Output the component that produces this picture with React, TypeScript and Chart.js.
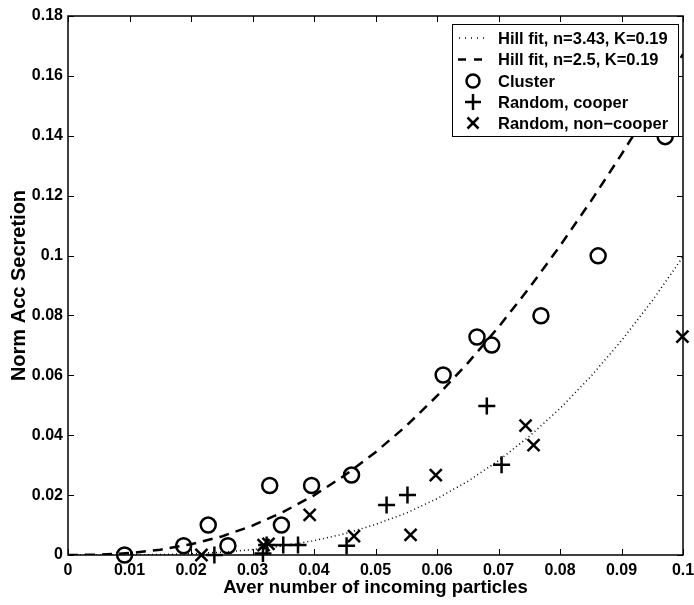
import React, { useEffect, useRef } from "react";
import { Chart, registerables } from "chart.js";

Chart.register(...registerables);

// ---- Axis ticks ----
const xTickValues = [0, 0.01, 0.02, 0.03, 0.04, 0.05, 0.06, 0.07, 0.08, 0.09, 0.1];
const xTickLabels = ["0", "0.01", "0.02", "0.03", "0.04", "0.05", "0.06", "0.07", "0.08", "0.09", "0.1"];
const yTickValues = [0, 0.02, 0.04, 0.06, 0.08, 0.1, 0.12, 0.14, 0.16, 0.18];
const yTickLabels = ["0", "0.02", "0.04", "0.06", "0.08", "0.1", "0.12", "0.14", "0.16", "0.18"];

// ---- Fit curves ----
const curveX = [0, 0.005, 0.01, 0.015, 0.02, 0.025, 0.03, 0.035, 0.04, 0.045, 0.05, 0.055, 0.06, 0.065, 0.07, 0.075, 0.08, 0.085, 0.09, 0.095, 0.1];
const hillDotted = [0, 0.000004, 0.00004, 0.00017, 0.00044, 0.00095, 0.0018, 0.003, 0.0048, 0.0071, 0.0102, 0.014, 0.0188, 0.0246, 0.0315, 0.0396, 0.0489, 0.0596, 0.0716, 0.0849, 0.0996];
const hillDashed = [0, 0.00011, 0.00064, 0.00175, 0.0036, 0.0062, 0.0098, 0.0144, 0.0199, 0.0266, 0.0343, 0.0431, 0.0531, 0.0641, 0.0761, 0.0892, 0.1032, 0.1181, 0.1338, 0.1502, 0.1673];

// ---- Measured points ----
const clusterX = [0.0092, 0.0188, 0.0228, 0.026, 0.0328, 0.0347, 0.0396, 0.0461, 0.061, 0.0665, 0.0689, 0.0769, 0.0862, 0.0971];
const clusterY = [0, 0.0031, 0.01, 0.0031, 0.0232, 0.01, 0.0232, 0.0267, 0.0601, 0.0728, 0.0701, 0.0799, 0.0999, 0.1397];

const cooperX = [0.0238, 0.0317, 0.0323, 0.035, 0.0374, 0.0453, 0.0518, 0.0552, 0.0681, 0.0705];
const cooperY = [0, 0.0005, 0.0033, 0.0033, 0.0033, 0.0031, 0.0167, 0.02, 0.0498, 0.0301];

const nonCooperX = [0.0217, 0.0318, 0.0326, 0.0393, 0.0465, 0.0557, 0.0598, 0.0744, 0.0757, 0.0999];
const nonCooperY = [0, 0.0033, 0.0037, 0.0134, 0.0063, 0.0067, 0.0267, 0.0432, 0.0367, 0.0729];

const seriesLabels = [
  "Hill fit, n=3.43, K=0.19",
  "Hill fit, n=2.5, K=0.19",
  "Cluster",
  "Random, cooper",
  "Random, non\u2212cooper",
];

const FONT = "'Liberation Sans', Arial, Helvetica, sans-serif";

const zip = (xs: number[], ys: number[]) => xs.map((x, i) => ({ x, y: ys[i] }));

const framePlugin = {
  id: "frameAndLegend",
  afterDraw(chart: any) {
    const { ctx, chartArea } = chart;
    const { left, right, top, bottom } = chartArea;
    const xs = chart.scales.x;
    const ys = chart.scales.y;
    ctx.save();
    ctx.strokeStyle = "#000";
    ctx.lineWidth = 1.5;
    ctx.strokeRect(left, top, right - left, bottom - top);
    ctx.lineWidth = 1;
    const L = 6;
    const line = (a: number, b: number, c: number, d: number) => {
      ctx.beginPath();
      ctx.moveTo(a, b);
      ctx.lineTo(c, d);
      ctx.stroke();
    };
    for (const v of xTickValues) {
      const px = Math.round(xs.getPixelForValue(v)) + 0.5;
      line(px, bottom, px, bottom - L);
      line(px, top, px, top + L);
    }
    for (const v of yTickValues) {
      const py = Math.round(ys.getPixelForValue(v)) + 0.5;
      line(left, py, left + L, py);
      line(right, py, right - L, py);
    }

    // Legend box
    const bx = 452, by = 24, bw = 226, bh = 112;
    ctx.fillStyle = "#fff";
    ctx.fillRect(bx, by, bw, bh);
    ctx.strokeStyle = "#000";
    ctx.lineWidth = 1;
    ctx.strokeRect(bx + 0.5, by + 0.5, bw, bh);

    const rows = [38, 59.5, 81, 102, 123];
    const sx = 473;
    ctx.font = `bold 16.5px ${FONT}`;
    ctx.textBaseline = "middle";
    ctx.textAlign = "left";
    ctx.fillStyle = "#000";
    seriesLabels.forEach((lab, i) => {
      const y = rows[i];
      ctx.save();
      ctx.strokeStyle = "#000";
      if (i === 0) {
        ctx.lineWidth = 1.5;
        ctx.setLineDash([1, 5]);
        line(459, y, 489, y);
      } else if (i === 1) {
        ctx.lineWidth = 2.5;
        ctx.setLineDash([8, 8]);
        line(458, y, 490, y);
      } else if (i === 2) {
        ctx.lineWidth = 2.5;
        ctx.beginPath();
        ctx.arc(sx, y, 6.5, 0, Math.PI * 2);
        ctx.stroke();
      } else if (i === 3) {
        ctx.lineWidth = 2.5;
        line(sx - 8, y, sx + 8, y);
        line(sx, y - 8, sx, y + 8);
      } else {
        ctx.lineWidth = 2.5;
        line(sx - 5.5, y - 5.5, sx + 5.5, y + 5.5);
        line(sx - 5.5, y + 5.5, sx + 5.5, y - 5.5);
      }
      ctx.restore();
      ctx.fillText(lab, 498, y + 1);
    });
    ctx.restore();
  },
};

export default function App() {
  const canvasRef = useRef<HTMLCanvasElement | null>(null);

  useEffect(() => {
    document.body.style.margin = "0";
    const canvas = canvasRef.current;
    if (!canvas) return;
    const chart = new Chart(canvas, {
      type: "scatter",
      data: {
        datasets: [
          {
            label: seriesLabels[0],
            data: zip(curveX, hillDotted),
            showLine: true,
            borderColor: "#000",
            borderWidth: 1.5,
            borderDash: [1, 3],
            pointRadius: 0,
            fill: false,
          },
          {
            label: seriesLabels[1],
            data: zip(curveX, hillDashed),
            showLine: true,
            borderColor: "#000",
            borderWidth: 2.5,
            borderDash: [10, 7],
            pointRadius: 0,
            fill: false,
          },
          {
            label: seriesLabels[2],
            data: zip(clusterX, clusterY),
            pointStyle: "circle",
            pointRadius: 7.5,
            borderWidth: 2.5,
            borderColor: "#000",
            backgroundColor: "rgba(0,0,0,0)",
            clip: false,
          },
          {
            label: seriesLabels[3],
            data: zip(cooperX, cooperY),
            pointStyle: "cross",
            pointRadius: 8.5,
            borderWidth: 2.5,
            borderColor: "#000",
            clip: false,
          },
          {
            label: seriesLabels[4],
            data: zip(nonCooperX, nonCooperY),
            pointStyle: "crossRot",
            pointRadius: 8.5,
            borderWidth: 2.5,
            borderColor: "#000",
            clip: false,
          },
        ] as any,
      },
      options: {
        animation: false,
        responsive: false,
        maintainAspectRatio: false,
        layout: { padding: { left: 0, right: 0, top: 16, bottom: 0 } },
        plugins: { legend: { display: false }, tooltip: { enabled: false } },
        scales: {
          x: {
            type: "linear",
            min: 0,
            max: 0.1,
            grid: { display: false, drawTicks: false },
            border: { display: false },
            afterBuildTicks: (scale: any) => {
              scale.ticks = xTickValues.map((v) => ({ value: v }));
            },
            afterFit: (scale: any) => {
              scale.height = 50;
              scale.paddingRight = 10;
              scale.paddingLeft = 0;
            },
            ticks: {
              autoSkip: false,
              maxRotation: 0,
              padding: 6,
              color: "#000",
              font: { family: FONT, size: 16, weight: "bold" },
              callback: (_v: any, i: number) => xTickLabels[i],
            },
            title: {
              display: true,
              text: "Aver number of incoming particles",
              color: "#000",
              font: { family: FONT, size: 18.5, weight: "bold" },
              padding: { top: 0, bottom: 6 },
            },
          },
          y: {
            type: "linear",
            min: 0,
            max: 0.18,
            grid: { display: false, drawTicks: false },
            border: { display: false },
            afterBuildTicks: (scale: any) => {
              scale.ticks = yTickValues.map((v) => ({ value: v }));
            },
            afterFit: (scale: any) => {
              scale.width = 68;
            },
            ticks: {
              autoSkip: false,
              padding: 5,
              color: "#000",
              font: { family: FONT, size: 16, weight: "bold" },
              callback: (_v: any, i: number) => yTickLabels[i],
            },
            title: {
              display: true,
              text: "Norm Acc Secretion",
              color: "#000",
              font: { family: FONT, size: 20, weight: "bold" },
              padding: { top: 7, bottom: 0 },
            },
          },
        },
      } as any,
      plugins: [framePlugin],
    });
    return () => chart.destroy();
  }, []);

  return (
    <div style={{ width: 694, height: 605 }}>
      <canvas ref={canvasRef} width={694} height={605} style={{ display: "block", width: 694, height: 605 }} />
    </div>
  );
}
